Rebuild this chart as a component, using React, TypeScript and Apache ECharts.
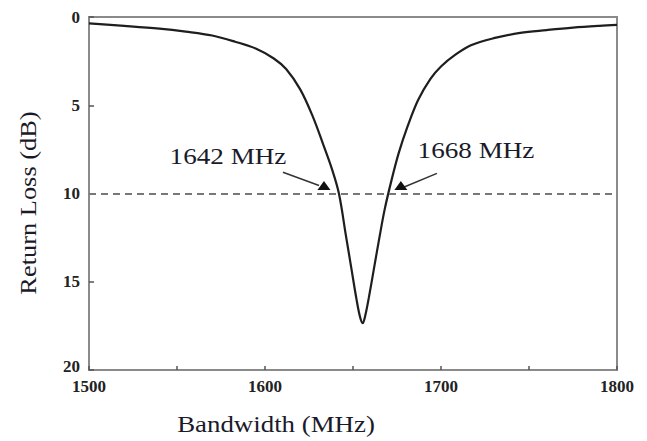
import React, { useEffect, useRef } from "react";
import * as echarts from "echarts";

const freqMHz = [1500, 1520, 1540, 1555, 1570, 1583, 1595, 1605, 1612, 1620, 1627, 1633, 1638, 1642, 1646, 1649, 1652, 1654, 1655.5, 1657, 1659, 1662, 1665, 1668, 1672, 1676, 1681, 1687, 1694, 1700, 1708, 1717, 1730, 1745, 1760, 1775, 1790, 1800];
const returnLossDb = [0.36, 0.5, 0.66, 0.83, 1.05, 1.4, 1.8, 2.35, 2.95, 4.1, 5.6, 7.2, 8.6, 10.0, 12.4, 14.2, 16.0, 17.0, 17.35, 16.9, 15.9, 14.2, 12.5, 10.9, 9.2, 7.7, 6.2, 4.7, 3.5, 2.8, 2.15, 1.6, 1.2, 0.9, 0.74, 0.6, 0.5, 0.45];
const thresholdDb = 10;
const annotationLabels = ["1642 MHz", "1668 MHz"];
const arrowStarts = [[1610.2, 8.8], [1697.7, 8.86]];
const arrowEnds = [[1630.7, 9.55], [1678.4, 9.66]];
const arrowHeads = [[1633.5, 9.55], [1677.2, 9.55]];
const xTicks = [1500, 1600, 1700, 1800];

const SERIF = "'Liberation Serif', 'Times New Roman', serif";
const tickFont = { fontFamily: SERIF, fontWeight: "bold" as const, fontSize: 17, color: "#222" };

export default function App() {
  const ref = useRef<HTMLDivElement>(null);
  useEffect(() => {
    if (!ref.current) return;
    const chart = echarts.init(ref.current, null, { renderer: "svg" });
    const data = freqMHz.map((f, i) => [f, returnLossDb[i]]);
    chart.setOption({
      animation: false,
      backgroundColor: "#ffffff",
      grid: {
        left: 89,
        right: 30,
        top: 17,
        bottom: 71,
        show: true,
        borderColor: "#8a8a8a",
        borderWidth: 2,
      },
      xAxis: {
        type: "value",
        position: "bottom",
        min: 1500,
        max: 1800,
        interval: 50,
        axisLine: { onZero: false, lineStyle: { color: "#8a8a8a", width: 2 } },
        axisTick: { inside: true, length: 4, lineStyle: { color: "#555", width: 1.5 } },
        splitLine: { show: false },
        axisLabel: {
          margin: 10,
          ...tickFont,
          lineHeight: 12,
          formatter: (v: number) => (xTicks.includes(v) ? String(v) : ""),
        },
      },
      yAxis: {
        type: "value",
        inverse: true,
        min: 0,
        max: 20,
        interval: 5,
        axisLine: { onZero: false, lineStyle: { color: "#8a8a8a", width: 2 } },
        axisTick: { inside: true, length: 5, lineStyle: { color: "#555", width: 1.5 } },
        splitLine: { show: false },
        axisLabel: {
          margin: 9,
          ...tickFont,
          lineHeight: 12,
          formatter: (v: number) => (v === 20 ? `{m|${v}}` : String(v)),
          rich: {
            m: { ...tickFont, lineHeight: 12, padding: [0, 0, 8, 0] },
          },
        },
      },
      graphic: [
        {
          type: "text",
          x: 276,
          y: 424,
          scaleX: 1.12,
          style: {
            text: "Bandwidth (MHz)",
            font: `24px ${SERIF}`,
            fill: "#1a1a2a",
            align: "center",
            verticalAlign: "middle",
          },
        },
        {
          type: "text",
          x: 28,
          y: 203,
          rotation: Math.PI / 2,
          scaleX: 1.1,
          style: {
            text: "Return Loss (dB)",
            font: `24px ${SERIF}`,
            fill: "#1a1a2a",
            align: "center",
            verticalAlign: "middle",
          },
        },
        {
          type: "text",
          x: 228,
          y: 156,
          scaleX: 1.18,
          style: {
            text: annotationLabels[0],
            font: `23px ${SERIF}`,
            fill: "#1a1a2a",
            align: "center",
            verticalAlign: "middle",
          },
        },
        {
          type: "text",
          x: 476,
          y: 150,
          scaleX: 1.18,
          style: {
            text: annotationLabels[1],
            font: `23px ${SERIF}`,
            fill: "#1a1a2a",
            align: "center",
            verticalAlign: "middle",
          },
        },
      ],
      series: [
        {
          type: "line",
          data,
          smooth: 0.35,
          showSymbol: false,
          symbol: "none",
          lineStyle: { color: "#1e1e1e", width: 2.2 },
          markLine: {
            silent: true,
            symbol: ["none", "none"],
            label: { show: false },
            data: [
              [
                { coord: [1500, thresholdDb], lineStyle: { color: "#777", width: 2, type: [7, 5] } },
                { coord: [1800, thresholdDb] },
              ],
              ...arrowStarts.map((s, i) => [
                { coord: s, lineStyle: { color: "#333", width: 1.5, type: "solid" } },
                { coord: arrowEnds[i] },
              ]),
            ],
          },
          markPoint: {
            silent: true,
            symbol: "triangle",
            symbolSize: [13, 9],
            itemStyle: { color: "#111" },
            label: { show: false },
            data: arrowHeads.map((c) => ({ coord: c })),
          },
        },
      ],
    });
    return () => chart.dispose();
  }, []);
  return (
    <div
      ref={ref}
      style={{ position: "fixed", left: 0, top: 0, width: 647, height: 441, background: "#fff" }}
    />
  );
}
